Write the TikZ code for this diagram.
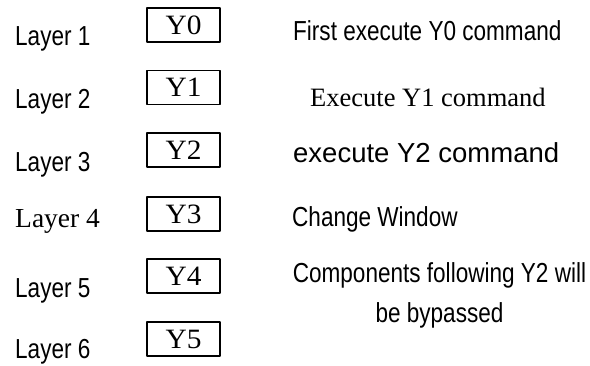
\documentclass[tikz,border=0pt]{standalone}
\usepackage{fontspec}
\setmainfont{Liberation Serif}
\newfontfamily\narrowsans[FakeStretch=0.82]{Liberation Sans}
\newfontfamily\plainsans{Liberation Sans}
\newfontfamily\boxserif[FakeStretch=1.05]{Liberation Serif}
\tikzset{
	ybox/.style={draw,line width=1.1pt,minimum width=73pt,minimum height=34pt,inner sep=0pt,font=\boxserif\fontsize{28}{32}\selectfont},
	layerlabel/.style={anchor=base west,inner sep=0pt,font=\narrowsans\fontsize{27.5}{33}\selectfont},
	remark/.style={anchor=base west,inner sep=0pt,font=\narrowsans\fontsize{27.5}{33}\selectfont}
}
\begin{document}
\begin{tikzpicture}[x=1pt,y=-1pt,line join=round]
	\useasboundingbox (0,0) rectangle (590,365);
	% the layers
	\node[layerlabel] (L1) at (15,45) {Layer 1};
	\node[layerlabel] (L2) at (15,108) {Layer 2};
	\node[layerlabel] (L3) at (15,171) {Layer 3};
	\node[layerlabel,font=\rmfamily\fontsize{27.5}{33}\selectfont] (L4) at (15,227) {Layer 4};
	\node[layerlabel] (L5) at (15,297) {Layer 5};
	\node[layerlabel] (L6) at (15,358) {Layer 6};
	% the components
	\node[ybox] (Y0) at (183.5,25) {Y0};
	\node[ybox] (Y1) at (183.5,87.5) {Y1};
	\node[ybox] (Y2) at (183.5,150) {Y2};
	\node[ybox] (Y3) at (183.5,214) {Y3};
	\node[ybox] (Y4) at (183.5,276) {Y4};
	\node[ybox] (Y5) at (183.5,339) {Y5};
	% what happens
	\node[remark] (R0) at (293,40) {First execute Y0 command};
	\node[remark,font=\rmfamily\fontsize{26.5}{32}\selectfont] (R1) at (310,106) {Execute Y1 command};
	\node[remark,font=\plainsans\fontsize{27.5}{33}\selectfont] (R2) at (293,162) {execute Y2 command};
	\node[remark] (R3) at (292,226) {Change Window};
	\node[remark,anchor=north,align=center,font=\narrowsans\fontsize{27.5}{40}\selectfont] (R4) at (439.5,262) {Components following Y2 will\\be bypassed};
\end{tikzpicture}
\end{document}
